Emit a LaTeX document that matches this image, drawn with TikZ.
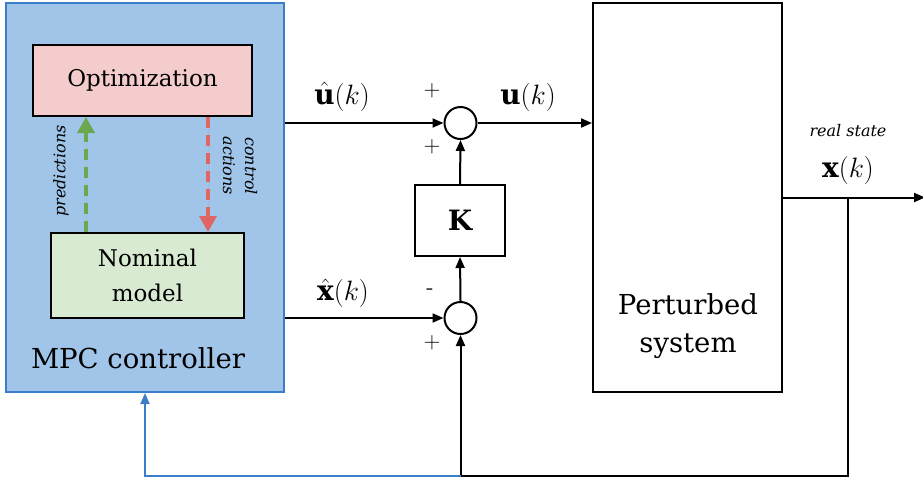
\RequirePackage{fix-cm}
\documentclass[tikz,border=0pt]{standalone}
\usepackage{fontspec}
\setmainfont{DejaVu Serif}
\usetikzlibrary{arrows.meta,calc}
\definecolor{mpcfill}{RGB}{160,197,232}
\definecolor{mpcdraw}{RGB}{58,125,200}
\definecolor{optfill}{RGB}{244,204,204}
\definecolor{nomfill}{RGB}{217,234,211}
\definecolor{greenarr}{RGB}{106,168,79}
\definecolor{redarr}{RGB}{224,102,102}
\tikzset{
  blk/.style={draw=black,line width=2pt,rectangle,inner sep=0pt},
  sumnode/.style={draw=black,line width=2pt,circle,minimum size=32pt,inner sep=0pt},
  arr/.style={line width=2pt,-{Triangle[length=11pt,width=9pt]}},
  fbarr/.style={draw=mpcdraw,line width=2pt,-{Triangle[length=11pt,width=9pt]}},
  dasharr/.style={line width=3.5pt,dash pattern=on 11pt off 7pt,-{Triangle[length=16pt,width=17pt]}},
  sign/.style={font=\fontsize{23}{23}\selectfont\sffamily,inner sep=0pt},
  mlabel/.style={font=\fontsize{28}{28}\selectfont,inner sep=0pt},
  itl/.style={font=\fontsize{16}{19}\selectfont\itshape,inner sep=0pt,align=center},
}
\begin{document}
\begin{tikzpicture}[x=1pt,y=-1pt]
\useasboundingbox (0,0) rectangle (923,485);
% MPC controller
\node[draw=mpcdraw,fill=mpcfill,line width=2pt,minimum width=278pt,minimum height=389pt,inner sep=0pt] (mpc) at (145,197.5) {};
\node[blk,fill=optfill,minimum width=219pt,minimum height=71pt,font=\fontsize{23}{28}\selectfont] (opt) at (142.5,80.5) {Optimization};
\node[blk,fill=nomfill,minimum width=193pt,minimum height=85pt,font=\fontsize{23}{35}\selectfont,align=center] (nom) at (147.5,275.5) {Nominal\\model};
\node[font=\fontsize{27.5}{30}\selectfont,inner sep=0pt] (mpclbl) at (138,358) {MPC controller};
\draw[dasharr,draw=greenarr,fill=greenarr] (nom.north -| 86,0) -- (opt.south -| 86,0);
\draw[dasharr,draw=redarr,fill=redarr] (opt.south -| 208,0) -- (nom.north -| 208,0);
\node[itl,rotate=90] (pred) at (61,171) {predictions};
\node[itl,rotate=-90,font=\fontsize{16}{22}\selectfont\itshape] (ctrl) at (240,166) {control\\actions};
% blocks
\node[sumnode] (s1) at (460.5,123) {};
\node[sumnode] (s2) at (460.5,318) {};
\node[blk,minimum width=90pt,minimum height=71pt,font=\fontsize{28}{28}\selectfont] (K) at (460,220.5) {$\mathbf{K}$};
\node[blk,minimum width=189pt,minimum height=389pt] (plant) at (687.5,197.5) {};
\node[font=\fontsize{27.5}{38}\selectfont,align=center,inner sep=0pt] (plantlbl) at (688,326) {Perturbed\\system};
% connectors
\draw[arr] (s1 -| mpc.east) -- (s1.west);
\draw[arr] (s1.east) -- (s1 -| plant.west);
\draw[arr] (s2 -| mpc.east) -- (s2.west);
\draw[arr] (s2.north) -- (K.south);
\draw[arr] (K.north) -- (s1.south);
\coordinate (out) at (925,197.5);
\coordinate (tap) at (848,197.5);
\coordinate (bot) at (848,476);
\coordinate (bm) at (s2 |- bot);
\draw[arr] (plant.east) -- (out);
\draw[arr] (tap) -- (bot) -- (bm) -- (s2.south);
\draw[fbarr] (bm) -| (mpc.south);
% labels
\node[sign] (p1) at (432,91) {+};
\node[sign] (p2) at (432,147) {+};
\node[sign] (m3) at (430,292) {-};
\node[sign] (p4) at (432,343) {+};
\node[mlabel] (uhat) at (342,97) {$\hat{\mathbf{u}}(k)$};
\node[mlabel] (ulbl) at (528,97) {$\mathbf{u}(k)$};
\node[mlabel] (xhat) at (343,293) {$\hat{\mathbf{x}}(k)$};
\node[itl] (rs) at (848,131) {real state};
\node[mlabel] (xlbl) at (848,170) {$\mathbf{x}(k)$};
\end{tikzpicture}
\end{document}
